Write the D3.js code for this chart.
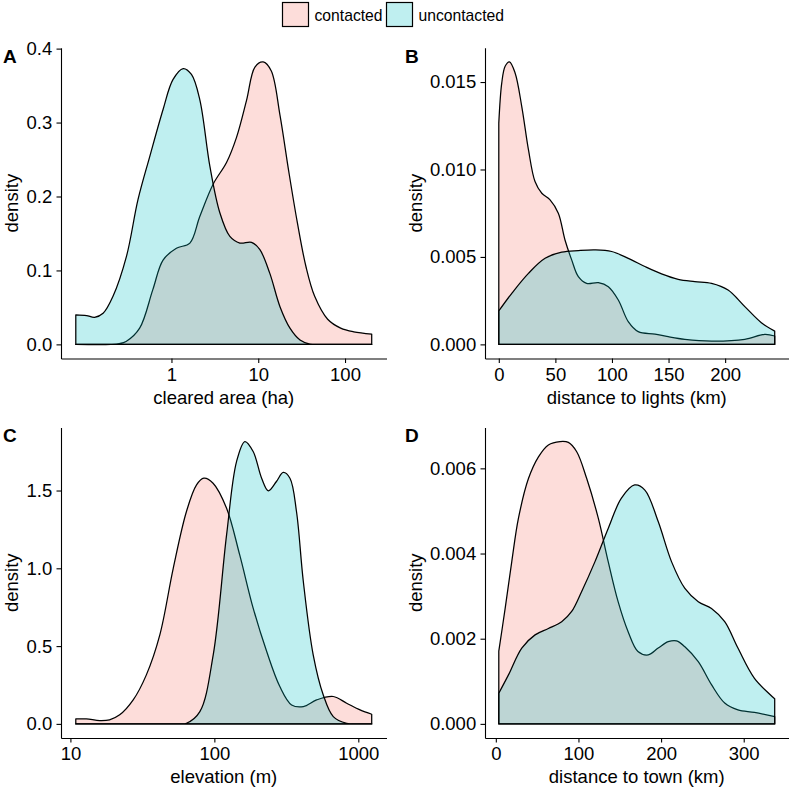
<!DOCTYPE html>
<html>
<head>
<meta charset="utf-8">
<script src="https://cdn.jsdelivr.net/npm/d3@7"></script>
<style>
  html, body { margin: 0; padding: 0; background: #ffffff; }
  svg { display: block; }
  text { font-family: "Liberation Sans", Arial, Helvetica, sans-serif; }
</style>
</head>
<body>
<svg id="chart" width="791" height="789"></svg>
<script>
// ---------------- DATA ----------------
const groups = ["contacted", "uncontacted"];
const groupColors = ["#F8766D", "#00BFC4"];
const panelLabels = ["A", "B", "C", "D"];
const xTitles = ["cleared area (ha)", "distance to lights (km)", "elevation (m)", "distance to town (km)"];

// Panel A: cleared area (ha), log x — [x, density]
const clearedContacted = [
  [0.079, 0], [0.2, 0], [0.25, 0.001], [0.30, 0.004], [0.43, 0.022], [0.61, 0.074],
  [0.80, 0.114], [1.14, 0.130], [1.63, 0.137], [2.12, 0.173], [3.03, 0.217],
  [4.31, 0.246], [5.62, 0.28], [7.33, 0.33], [9.16, 0.375], [11.4, 0.382],
  [14.1, 0.37], [17.8, 0.31], [22.4, 0.235], [28.2, 0.165], [35.5, 0.105],
  [44.7, 0.065], [63.1, 0.034], [89.1, 0.022], [126, 0.017], [203, 0.014]
];
const clearedUncontacted = [
  [0.079, 0.040], [0.105, 0.039], [0.130, 0.0366], [0.163, 0.042], [0.212, 0.065],
  [0.303, 0.119], [0.412, 0.196], [0.562, 0.254], [0.802, 0.318], [1.04, 0.358],
  [1.365, 0.373], [1.70, 0.365], [2.12, 0.331], [2.77, 0.241], [3.61, 0.178],
  [4.71, 0.146], [6.14, 0.137], [8.37, 0.138], [10.45, 0.128], [13.6, 0.096],
  [17.8, 0.051], [23.2, 0.022], [30.3, 0.006], [39.4, 0.0005], [56, 0], [203, 0]
];

// Panel B: distance to lights (km)
const lightsContacted = [
  [0, 0.01265], [2.6, 0.01494], [5.6, 0.0159], [9.4, 0.01615], [14.4, 0.01552],
  [20.3, 0.0136], [26.2, 0.01113], [32, 0.00931], [38, 0.00864], [45.3, 0.00826],
  [52.6, 0.0075], [58.5, 0.00597], [64.4, 0.00483], [70.3, 0.00387], [77.6, 0.00349],
  [88, 0.00353], [96.8, 0.0033], [105.6, 0.00254], [114.4, 0.0013], [123.2, 0.00073],
  [138, 0.00059], [149.7, 0.00044], [164.4, 0.00029], [188, 0.00019], [217.4, 0.00029],
  [235, 0.00057], [243.8, 0.00048]
];
const lightsUncontacted = [
  [0, 0.00191], [11.5, 0.00292], [26.2, 0.00406], [40.9, 0.00492], [55.6, 0.00527],
  [70.3, 0.00536], [85, 0.0054], [99.7, 0.00531], [114.4, 0.00492], [129.1, 0.00445],
  [143.8, 0.00403], [158.5, 0.00372], [173.2, 0.00359], [188, 0.00349], [202.6, 0.00311],
  [217.4, 0.00216], [232, 0.00124], [243.8, 0.00076]
];

// Panel C: elevation (m), log x
const elevContacted = [
  [10.9, 0.032], [12.9, 0.032], [16.0, 0.021], [18.7, 0.026], [22.0, 0.058],
  [27.3, 0.154], [33.7, 0.315], [41.8, 0.572], [51.8, 1.0], [64.0, 1.365],
  [75.2, 1.536], [84.5, 1.579], [98, 1.547], [121.6, 1.386], [150, 1.086],
  [186, 0.744], [231, 0.465], [285, 0.24], [344, 0.122], [415, 0.111],
  [513, 0.154], [670, 0.176], [830, 0.133], [1028, 0.09], [1239, 0.062]
];
const elevUncontacted = [
  [10.9, 0], [50, 0], [58, 0], [64.0, 0.004], [79.3, 0.079], [98.2, 0.444],
  [121.6, 1.215], [142.6, 1.686], [163, 1.815], [186, 1.751], [213, 1.579],
  [237, 1.498], [270, 1.558], [301, 1.616], [335, 1.579], [372, 1.365],
  [415, 0.915], [486, 0.444], [571, 0.186], [670, 0.047], [830, 0.004],
  [1000, 0], [1239, 0]
];

// Panel D: distance to town (km)
const townContacted = [
  [3.6, 0.00171], [11.3, 0.00271], [19.3, 0.00381], [27.4, 0.00483], [39.5, 0.00576],
  [51.6, 0.00627], [63.6, 0.00655], [77.7, 0.00663], [87.8, 0.00661], [97.9, 0.00639],
  [110, 0.00576], [124, 0.00483], [136, 0.00381], [148, 0.00287], [160, 0.00217],
  [172, 0.0017], [184.5, 0.00162], [196.5, 0.00178], [208.6, 0.00193], [218.7, 0.00195],
  [228.8, 0.00181], [245, 0.00146], [261, 0.00092], [277, 0.00049], [293, 0.00033],
  [313, 0.00027], [337.5, 0.00017]
];
const townUncontacted = [
  [3.6, 0.00072], [15.3, 0.00115], [31.4, 0.00178], [47.5, 0.00209], [63.6, 0.00224],
  [79.7, 0.0024], [91.8, 0.00264], [103.9, 0.00311], [120, 0.00381], [136, 0.00459],
  [152, 0.0053], [168, 0.00561], [180.4, 0.00549], [196.5, 0.00475], [212.6, 0.00381],
  [228.8, 0.00318], [245, 0.00287], [261, 0.00271], [277, 0.0024], [293, 0.00178],
  [313, 0.00107], [337.5, 0.00059]
];

// Tick values
const clearedXTicks = [1, 10, 100];
const clearedYTicks = [0, 0.1, 0.2, 0.3, 0.4];
const lightsXTicks = [0, 50, 100, 150, 200];
const lightsYTicks = [0, 0.005, 0.010, 0.015];
const elevXTicks = [10, 100, 1000];
const elevYTicks = [0, 0.5, 1.0, 1.5];
const townXTicks = [0, 100, 200, 300];
const townYTicks = [0, 0.002, 0.004, 0.006];

// ---------------- LAYOUT ----------------
const svg = d3.select("#chart");
const colX = [[61, 386.5], [485, 788.5]];
const rowY = [[358.5, 47.8], [738, 427.4]];
const tickFont = 18.5;

const panels = [
  { label: panelLabels[0], title: xTitles[0], series: [clearedContacted, clearedUncontacted], log: true,
    xTicks: clearedXTicks, yTicks: clearedYTicks, yFmt: d3.format(".1f"), col: 0, row: 0 },
  { label: panelLabels[1], title: xTitles[1], series: [lightsContacted, lightsUncontacted], log: false,
    xTicks: lightsXTicks, yTicks: lightsYTicks, yFmt: d3.format(".3f"), col: 1, row: 0 },
  { label: panelLabels[2], title: xTitles[2], series: [elevContacted, elevUncontacted], log: true,
    xTicks: elevXTicks, yTicks: elevYTicks, yFmt: d3.format(".1f"), col: 0, row: 1 },
  { label: panelLabels[3], title: xTitles[3], series: [townContacted, townUncontacted], log: false,
    xTicks: townXTicks, yTicks: townYTicks, yFmt: d3.format(".3f"), col: 1, row: 1 }
];

function expand(lo, hi) { const d = (hi - lo) * 0.05; return [lo - d, hi + d]; }

panels.forEach(p => {
  const all = p.series.flat();
  const xr = colX[p.col], yr = rowY[p.row];
  let x;
  if (p.log) {
    const lo = Math.log10(d3.min(all, d => d[0])), hi = Math.log10(d3.max(all, d => d[0]));
    const e = expand(lo, hi);
    x = d3.scaleLog().domain([Math.pow(10, e[0]), Math.pow(10, e[1])]).range(xr);
  } else {
    x = d3.scaleLinear().domain(expand(d3.min(all, d => d[0]), d3.max(all, d => d[0]))).range(xr);
  }
  const y = d3.scaleLinear().domain(expand(0, d3.max(all, d => d[1]))).range(yr);

  const g = svg.append("g");

  // density areas
  const area = d3.area()
    .x(d => x(d[0]))
    .y0(y(0))
    .y1(d => Math.min(y(0), y(d[1])))
    .curve(d3.curveCatmullRom.alpha(0.5));
  p.series.forEach((s, i) => {
    g.append("path")
      .attr("d", area(s))
      .attr("fill", groupColors[i])
      .attr("fill-opacity", 0.25)
      .attr("stroke", "#000")
      .attr("stroke-width", 1.25)
      .attr("stroke-linejoin", "round");
  });

  // axes
  const xAxis = d3.axisBottom(x).tickValues(p.xTicks).tickFormat(d => String(d))
    .tickSize(4.5).tickPadding(4.6).tickSizeOuter(0);
  const yAxis = d3.axisLeft(y).tickValues(p.yTicks).tickFormat(p.yFmt)
    .tickSize(4.5).tickPadding(4.3).tickSizeOuter(0);

  const gx = g.append("g").attr("transform", `translate(0,${yr[0]})`).call(xAxis);
  const gy = g.append("g").attr("transform", `translate(${xr[0]},0)`).call(yAxis);
  [gx, gy].forEach(a => {
    a.selectAll(".domain").attr("stroke", "#000").attr("stroke-width", 1.1);
    a.selectAll(".tick line").attr("stroke", "#000").attr("stroke-width", 1.1);
    a.selectAll(".tick text").attr("fill", "#000")
      .style("font-size", tickFont + "px")
      .style("font-family", '"Liberation Sans", Arial, sans-serif');
  });

  // x-axis title
  g.append("text")
    .attr("x", (xr[0] + xr[1]) / 2)
    .attr("y", yr[0] + 45)
    .attr("text-anchor", "middle")
    .style("font-size", "18.5px")
    .attr("fill", "#000")
    .text(p.title);

  // y-axis title: placed left of the widest tick label
  let minX = Infinity;
  gy.selectAll(".tick text").each(function () {
    const b = this.getBBox();
    minX = Math.min(minX, b.x + xr[0]);
  });
  g.append("text")
    .attr("transform", `translate(${minX - 8},${(yr[0] + yr[1]) / 2}) rotate(-90)`)
    .attr("text-anchor", "middle")
    .style("font-size", "18.5px")
    .attr("fill", "#000")
    .text("density");

  // panel label
  g.append("text")
    .attr("x", p.col === 0 ? 3 : 405)
    .attr("y", p.row === 0 ? 63 : 442)
    .style("font-size", "19px")
    .style("font-weight", "bold")
    .attr("fill", "#000")
    .text(p.label);
});

// legend
const legendX = [282.5, 386.5];
const legend = svg.append("g");
groups.forEach((gname, i) => {
  legend.append("rect")
    .attr("x", legendX[i]).attr("y", 2.5)
    .attr("width", 26).attr("height", 24)
    .attr("fill", groupColors[i]).attr("fill-opacity", 0.25)
    .attr("stroke", "#000").attr("stroke-width", 1.2);
  legend.append("text")
    .attr("x", legendX[i] + 32).attr("y", 21)
    .style("font-size", "15.7px")
    .attr("fill", "#000")
    .text(gname);
});
</script>
</body>
</html>
